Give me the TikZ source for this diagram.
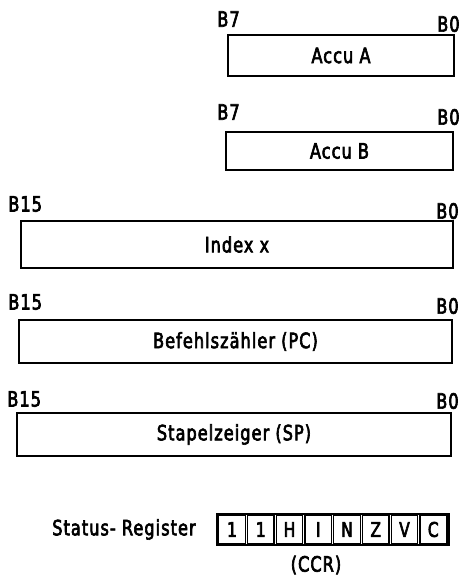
\documentclass[tikz,border=0pt]{standalone}
\usepackage{fontspec}
\setmainfont{DejaVu Sans Condensed}[FakeBold=3, FakeStretch=0.85, LetterSpace=5]
\usetikzlibrary{positioning, fit}
\tikzset{
    % register boxes
    register/.style={
        rectangle,
        draw=black,
        line width=1.2pt,
        inner sep=0pt,
        align=center,
        font=\fontsize{12}{14}\selectfont
    },
    bit label/.style={
        inner sep=0pt,
        font=\fontsize{12}{14}\selectfont
    },
    flag cell/.style={
        rectangle,
        draw=black,
        line width=0.8pt,
        inner sep=0pt,
        minimum width=0.53cm,
        minimum height=0.55cm,
        font=\fontsize{11.5}{13}\selectfont
    },
    flag frame/.style={
        rectangle,
        draw=black,
        line width=1.2pt,
        inner sep=0.025cm
    }
}
\begin{document}
\begin{tikzpicture}[x=0.02cm, y=-0.02cm]
        \useasboundingbox (0,0) rectangle (462,582);

        % Accumulators
        \node[register, minimum width=4.52cm, minimum height=0.82cm] (accuA) at (341,55.5) {Accu A};
        \node[bit label, anchor=west] (accuAhi) at (217,19) {B7};
        \node[bit label, anchor=east] (accuAlo) at (460,24) {B0};

        \node[register, minimum width=4.54cm, minimum height=0.76cm] (accuB) at (339.5,151) {Accu B};
        \node[bit label, anchor=west] (accuBhi) at (217,112) {B7};
        \node[bit label, anchor=east] (accuBlo) at (460,117) {B0};

        % 16 bit registers
        \node[register, minimum width=8.64cm, minimum height=0.94cm] (index) at (237,244.5) {Index x};
        \node[bit label, anchor=west] (indexhi) at (8,204) {B15};
        \node[bit label, anchor=east] (indexlo) at (459,211) {B0};

        \node[register, minimum width=8.66cm, minimum height=0.86cm] (pc) at (235.5,341.5) {Befehlszähler (PC)};
        \node[bit label, anchor=west] (pchi) at (8,302) {B15};
        \node[bit label, anchor=east] (pclo) at (459,306) {B0};

        \node[register, minimum width=8.68cm, minimum height=0.86cm] (sp) at (234,434.5) {Stapelzeiger (SP)};
        \node[bit label, anchor=west] (sphi) at (7,399) {B15};
        \node[bit label, anchor=east] (splo) at (459,401) {B0};

        % Status register
        \foreach \flag [count=\i from 0] in {1,1,H,I,N,Z,V,C} {
            \node[flag cell] (ccr\i) at (232+28.75*\i,529.5) {\flag};
        }
        \node[flag frame, fit=(ccr0)(ccr7)] (ccr) {};
        \node[bit label, anchor=east] (status) at (196,529.5) {Status- Register};
        \node[bit label] (ccrname) at (316,565) {(CCR)};
    \end{tikzpicture}
\end{document}
